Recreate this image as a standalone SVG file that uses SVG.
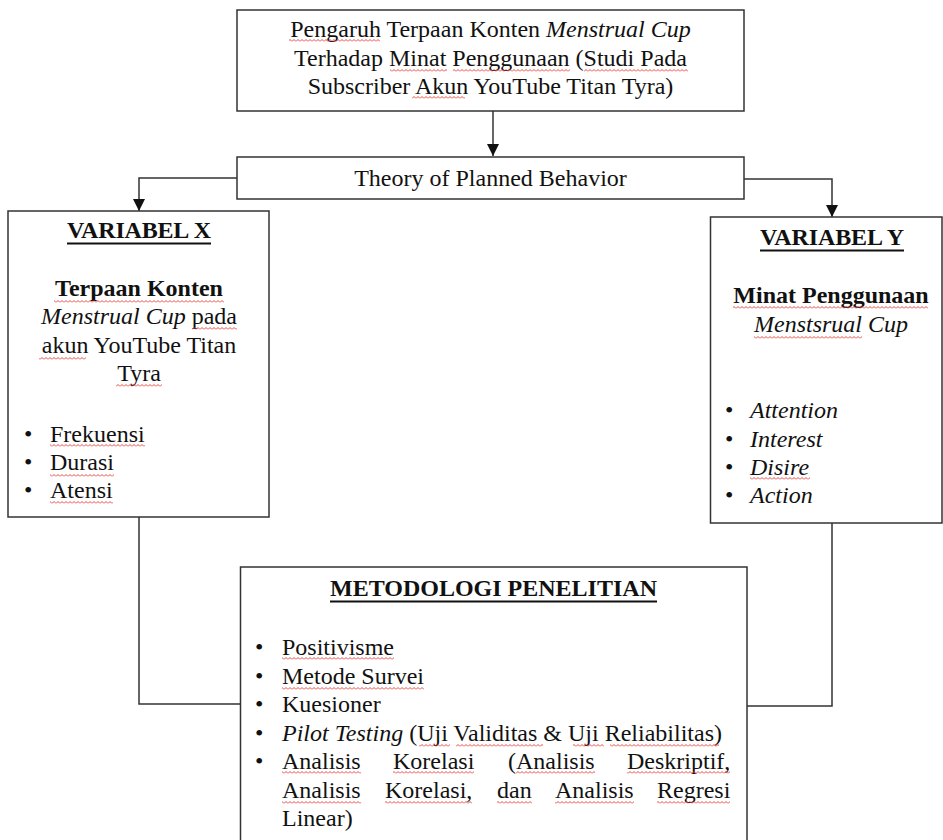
<svg xmlns="http://www.w3.org/2000/svg" width="943" height="840" viewBox="0 0 943 840">
<style>
.box{fill:#fff;stroke:#333;stroke-width:1.5}
.ln{fill:none;stroke:#333;stroke-width:1.5}
.t{font-family:"Liberation Serif","Times New Roman",serif;font-size:24px;fill:#111}
.c{text-anchor:middle}
.b{font-weight:bold}
.i{font-style:italic}
.ul{stroke:#111;stroke-width:2}
.sq{fill:url(#sq)}
</style>
<defs>
<pattern id="sq" width="4" height="3" patternUnits="userSpaceOnUse">
<path d="M0,2.5 L2,0.5 L4,2.5" fill="none" stroke="#e8352b" stroke-width="0.9"/>
</pattern>
<marker id="ah" markerUnits="userSpaceOnUse" markerWidth="12" markerHeight="12" refX="12" refY="6" orient="auto">
<path d="M0,0 L12,6 L0,12 z" fill="#111"/>
</marker>
</defs>

<g id="connectors">
<path class="ln" d="M493,111 V156" marker-end="url(#ah)"/>
<path class="ln" d="M237,178 H139 V211" marker-end="url(#ah)"/>
<path class="ln" d="M744,179 H832 V217" marker-end="url(#ah)"/>
<path class="ln" d="M139,517 V704 H240"/>
<path class="ln" d="M832,523 V706 H747"/>
</g>

<g id="judul">
<rect class="box" x="237" y="10" width="507" height="101"/>
<text class="t c" x="490.5" y="37">Pengaruh Terpaan Konten <tspan class="i">Menstrual Cup</tspan></text>
<text class="t c" x="490.5" y="66">Terhadap Minat Penggunaan (Studi Pada</text>
<text class="t c" x="490.5" y="94">Subscriber Akun YouTube Titan Tyra)</text>
<rect class="sq" x="289" y="39" width="91" height="3"/>
<rect class="sq" x="390" y="69" width="57" height="3"/>
<rect class="sq" x="453" y="69" width="117" height="3"/>
<rect class="sq" x="584" y="69" width="104" height="3"/>
<rect class="sq" x="412" y="96" width="53" height="3"/>
</g>

<g id="teori">
<rect class="box" x="237" y="157" width="507" height="42"/>
<text class="t c" x="490.5" y="186">Theory of Planned Behavior</text>
</g>

<g id="variabel-x">
<rect class="box" x="8" y="211" width="261" height="306"/>
<text class="t c b" x="139" y="238" textLength="144" lengthAdjust="spacing">VARIABEL X</text>
<line class="ul" x1="67" y1="243.5" x2="211" y2="243.5"/>
<text class="t c b" x="139" y="296">Terpaan Konten</text>
<text class="t c" x="139" y="324"><tspan class="i">Menstrual Cup</tspan> pada</text>
<text class="t c" x="139" y="353">akun YouTube Titan</text>
<text class="t c" x="139" y="381">Tyra</text>
<text class="t" x="24" y="442">•</text>
<text class="t" x="50" y="442">Frekuensi</text>
<text class="t" x="24" y="470">•</text>
<text class="t" x="50" y="470">Durasi</text>
<text class="t" x="24" y="498">•</text>
<text class="t" x="50" y="498">Atensi</text>
<rect class="sq" x="54" y="300" width="170" height="3"/>
<rect class="sq" x="192" y="327" width="45" height="3"/>
<rect class="sq" x="39" y="357" width="47" height="3"/>
<rect class="sq" x="116" y="384" width="46" height="3"/>
<rect class="sq" x="50" y="444" width="95" height="3"/>
<rect class="sq" x="50" y="474" width="64" height="3"/>
<rect class="sq" x="50" y="501" width="63" height="3"/>
</g>

<g id="variabel-y">
<rect class="box" x="710.5" y="217" width="231.5" height="306"/>
<text class="t c b" x="832" y="245" textLength="144" lengthAdjust="spacing">VARIABEL Y</text>
<line class="ul" x1="760" y1="250.5" x2="904" y2="250.5"/>
<text class="t c b" x="831" y="303">Minat Penggunaan</text>
<text class="t c i" x="831" y="332">Menstsrual Cup</text>
<text class="t" x="725" y="418">•</text>
<text class="t i" x="750" y="418">Attention</text>
<text class="t" x="725" y="447">•</text>
<text class="t i" x="750" y="447">Interest</text>
<text class="t" x="725" y="475">•</text>
<text class="t i" x="750" y="475">Disire</text>
<text class="t" x="725" y="503">•</text>
<text class="t i" x="750" y="503">Action</text>
<rect class="sq" x="733" y="306" width="195" height="3"/>
<rect class="sq" x="754" y="336" width="108" height="3"/>
<rect class="sq" x="750" y="477" width="60" height="3"/>
</g>

<g id="metodologi">
<rect class="box" x="240.5" y="567" width="506.5" height="300"/>
<text class="t c b" x="493.5" y="596">METODOLOGI PENELITIAN</text>
<line class="ul" x1="330" y1="601.5" x2="657" y2="601.5"/>
<text class="t" x="255" y="655">•</text>
<text class="t" x="282" y="655">Positivisme</text>
<text class="t" x="255" y="683.5">•</text>
<text class="t" x="282" y="683.5">Metode Survei</text>
<text class="t" x="255" y="712">•</text>
<text class="t" x="282" y="712">Kuesioner</text>
<text class="t" x="255" y="740.5">•</text>
<text class="t" x="282" y="740.5"><tspan class="i">Pilot Testing</tspan> (Uji Validitas &amp; Uji Reliabilitas)</text>
<text class="t" x="255" y="769">•</text>
<text class="t" y="769"><tspan x="282">Analisis</tspan><tspan x="393">Korelasi</tspan><tspan x="508">(Analisis</tspan><tspan x="627">Deskriptif,</tspan></text>
<text class="t" y="797.5"><tspan x="282">Analisis</tspan><tspan x="385">Korelasi,</tspan><tspan x="497">dan</tspan><tspan x="555">Analisis</tspan><tspan x="657">Regresi</tspan></text>
<text class="t" x="282" y="826">Linear)</text>
<rect class="sq" x="282" y="657" width="112" height="3"/>
<rect class="sq" x="282" y="687" width="142" height="3"/>
<rect class="sq" x="419" y="744" width="31" height="3"/>
<rect class="sq" x="456" y="744" width="87" height="3"/>
<rect class="sq" x="573" y="744" width="31" height="3"/>
<rect class="sq" x="610" y="744" width="109" height="3"/>
<rect class="sq" x="282" y="771" width="79" height="3"/>
<rect class="sq" x="393" y="771" width="81" height="3"/>
<rect class="sq" x="516" y="771" width="79" height="3"/>
<rect class="sq" x="627" y="771" width="103" height="3"/>
<rect class="sq" x="282" y="801" width="79" height="3"/>
<rect class="sq" x="385" y="801" width="87" height="3"/>
<rect class="sq" x="497" y="801" width="35" height="3"/>
<rect class="sq" x="555" y="801" width="79" height="3"/>
<rect class="sq" x="657" y="801" width="73" height="3"/>
</g>
</svg>
